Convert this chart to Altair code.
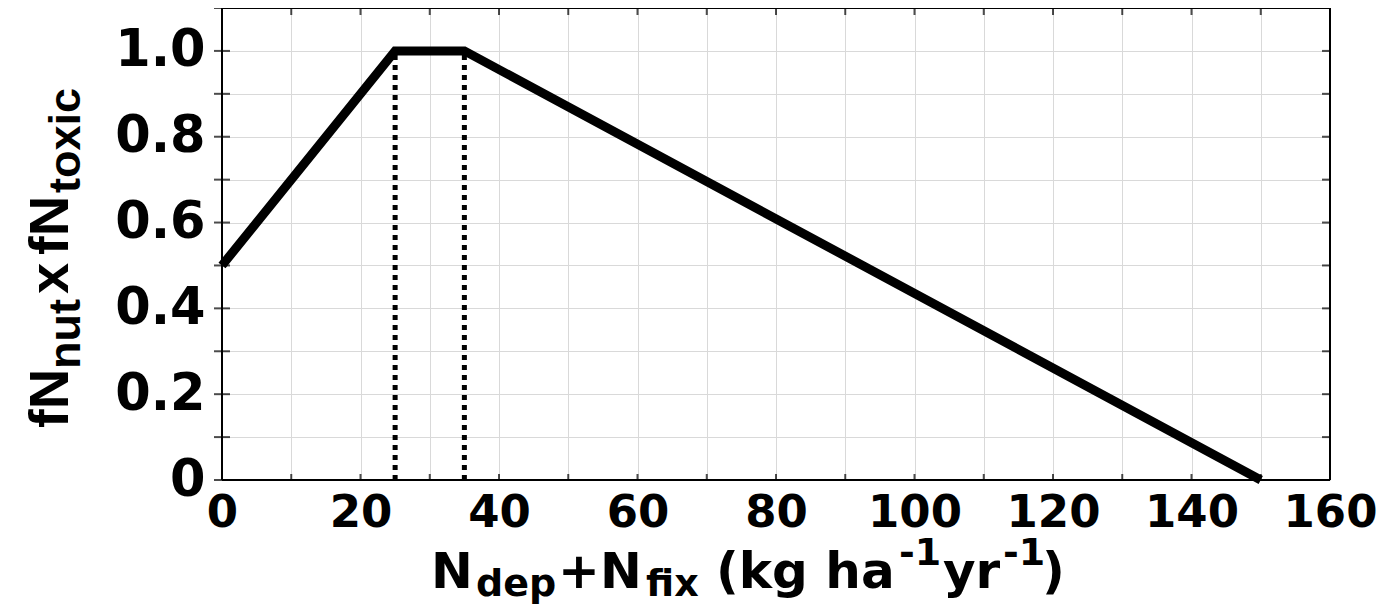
import altair as alt
import pandas as pd

# ---- data ----
n_input = [0, 25, 35, 150]          # N_dep + N_fix (kg ha-1 yr-1)
f_value = [0.5, 1.0, 1.0, 0.0]      # fN_nut x fN_toxic
threshold_x = [25, 35]              # dotted verticals
threshold_low = [0.0, 0.0]
threshold_top = [1.0, 1.0]
x_ticks = [0, 10, 20, 30, 40, 50, 60, 70, 80, 90, 100, 110, 120, 130, 140, 150, 160]
y_ticks = [0.0, 0.1, 0.2, 0.3, 0.4, 0.5, 0.6, 0.7, 0.8, 0.9, 1.0, 1.1]

# ---- layout ----
W, H = 1108, 472
PAD = {"left": 214, "top": 0, "right": 47, "bottom": 125}
ORIGIN_X = 8 + PAD["left"]
ORIGIN_Y = 8 + PAD["top"]

line_df = pd.DataFrame({"x": n_input, "y": f_value})
thr_df = pd.DataFrame({"x": threshold_x, "y0": threshold_low, "y1": threshold_top})
xt_df = pd.DataFrame({"x": x_ticks})
yt_df = pd.DataFrame({"y": y_ticks})
one = pd.DataFrame({"k": [0]})

xscale = alt.Scale(domain=[0, 160], nice=False, zero=False)
yscale = alt.Scale(domain=[0, 1.1], nice=False, zero=False)

x_axis = alt.Axis(
    values=x_ticks,
    labelExpr="datum.value % 20 == 0 ? datum.label : ''",
    title=None, grid=True, ticks=False, domain=False,
    labelPadding=10, labelFontSize=45, labelFlush=False, labelOverlap=False,
)
y_axis = alt.Axis(
    values=y_ticks,
    labelExpr="datum.value == 0 ? '0' : (round(datum.value * 10) % 2 == 0 ? format(datum.value, '.1f') : '')",
    title=None, grid=True, ticks=False, domain=False,
    labelPadding=17, labelFontSize=51, labelFlush=False, labelOverlap=False,
)

dotted = alt.Chart(thr_df).mark_rule(color="black", strokeWidth=5, strokeDash=[5, 5]).encode(
    x=alt.X("x:Q", scale=xscale, axis=x_axis),
    y=alt.Y("y0:Q", scale=yscale, axis=y_axis),
    y2="y1:Q",
)

main_line = alt.Chart(line_df).mark_line(
    color="black", strokeWidth=9, strokeJoin="miter", strokeCap="butt"
).encode(
    x=alt.X("x:Q", scale=xscale, title=None),
    y=alt.Y("y:Q", scale=yscale, title=None),
)

border_style = dict(color="black", strokeWidth=2)
top_b = alt.Chart(one).mark_rule(**border_style).encode(y=alt.datum(1.1))
bot_b = alt.Chart(one).mark_rule(**border_style).encode(y=alt.datum(0))
left_b = alt.Chart(one).mark_rule(**border_style).encode(x=alt.datum(0))
right_b = alt.Chart(one).mark_rule(**border_style).encode(x=alt.datum(160))

top_ticks = alt.Chart(xt_df).mark_tick(orient="vertical", size=14, thickness=2, color="black", clip=True).encode(
    x=alt.X("x:Q", scale=xscale, title=None), y=alt.datum(1.1))
bot_ticks = alt.Chart(xt_df).mark_tick(orient="vertical", size=12, thickness=2, color="black", clip=True).encode(
    x=alt.X("x:Q", scale=xscale, title=None), y=alt.datum(0))
right_ticks = alt.Chart(yt_df).mark_tick(orient="horizontal", size=16, thickness=2, color="black", clip=True).encode(
    y=alt.Y("y:Q", scale=yscale, title=None), x=alt.datum(160))
left_ticks = alt.Chart(yt_df).mark_tick(orient="horizontal", size=16, thickness=2, color="black").encode(
    y=alt.Y("y:Q", scale=yscale, title=None), x=alt.datum(0))


def seg(text, page_x, page_y, size, angle=0, font="DejaVu Sans"):
    props = dict(align="left", baseline="alphabetic", font=font, fontWeight="bold",
                 fontSize=size, color="black")
    if angle:
        props["angle"] = angle
    return alt.Chart(pd.DataFrame({"t": [text]})).mark_text(**props).encode(
        text="t:N",
        x=alt.value(page_x - ORIGIN_X),
        y=alt.value(page_y - ORIGIN_Y),
    )


# x-axis title: N_dep+N_fix (kg ha^-1 yr^-1)
MAIN, SUB, SUP = 50, 38, 38
BL, BL_SUB, BL_SUP = 588, 596, 565
x_title = [
    seg("N", 431, BL, MAIN),
    seg("dep", 476, BL_SUB, SUB),
    seg("+N", 558, BL, MAIN),
    seg("fix", 646, BL_SUB, SUB),
    seg("(kg ha", 716, BL, MAIN),
    seg("-1", 899, BL_SUP, SUP),
    seg("yr", 943, BL, MAIN),
    seg("-1", 1003, BL_SUP, SUP),
    seg(")", 1042, BL, MAIN),
]

# y-axis title: fN_nut x fN_toxic (rotated)
YF = "Liberation Sans"
YM, YS = 56, 45
YBL, YBL_SUB = 68, 80
y_title = [
    seg("fN", YBL, 428, YM, 270, YF),
    seg("nut", YBL_SUB, 369, YS, 270, YF),
    seg("x", YBL, 294, YM, 270, YF),
    seg("fN", YBL, 255, YM, 270, YF),
    seg("toxic", YBL_SUB, 193, YS, 270, YF),
]

chart = alt.layer(
    dotted, main_line,
    top_b, bot_b, left_b, right_b,
    top_ticks, bot_ticks, right_ticks, left_ticks,
    *x_title, *y_title,
).properties(
    width=W, height=H,
    autosize=alt.AutoSizeParams(type="none"),
    padding=PAD,
).configure_view(
    stroke=None
).configure_axis(
    labelFont="DejaVu Sans", labelFontWeight="bold", labelColor="black",
    gridColor="#d9d9d9", gridWidth=1, gridOpacity=1,
)

chart.save("out.html", embed_options={"renderer": "svg", "actions": False})
